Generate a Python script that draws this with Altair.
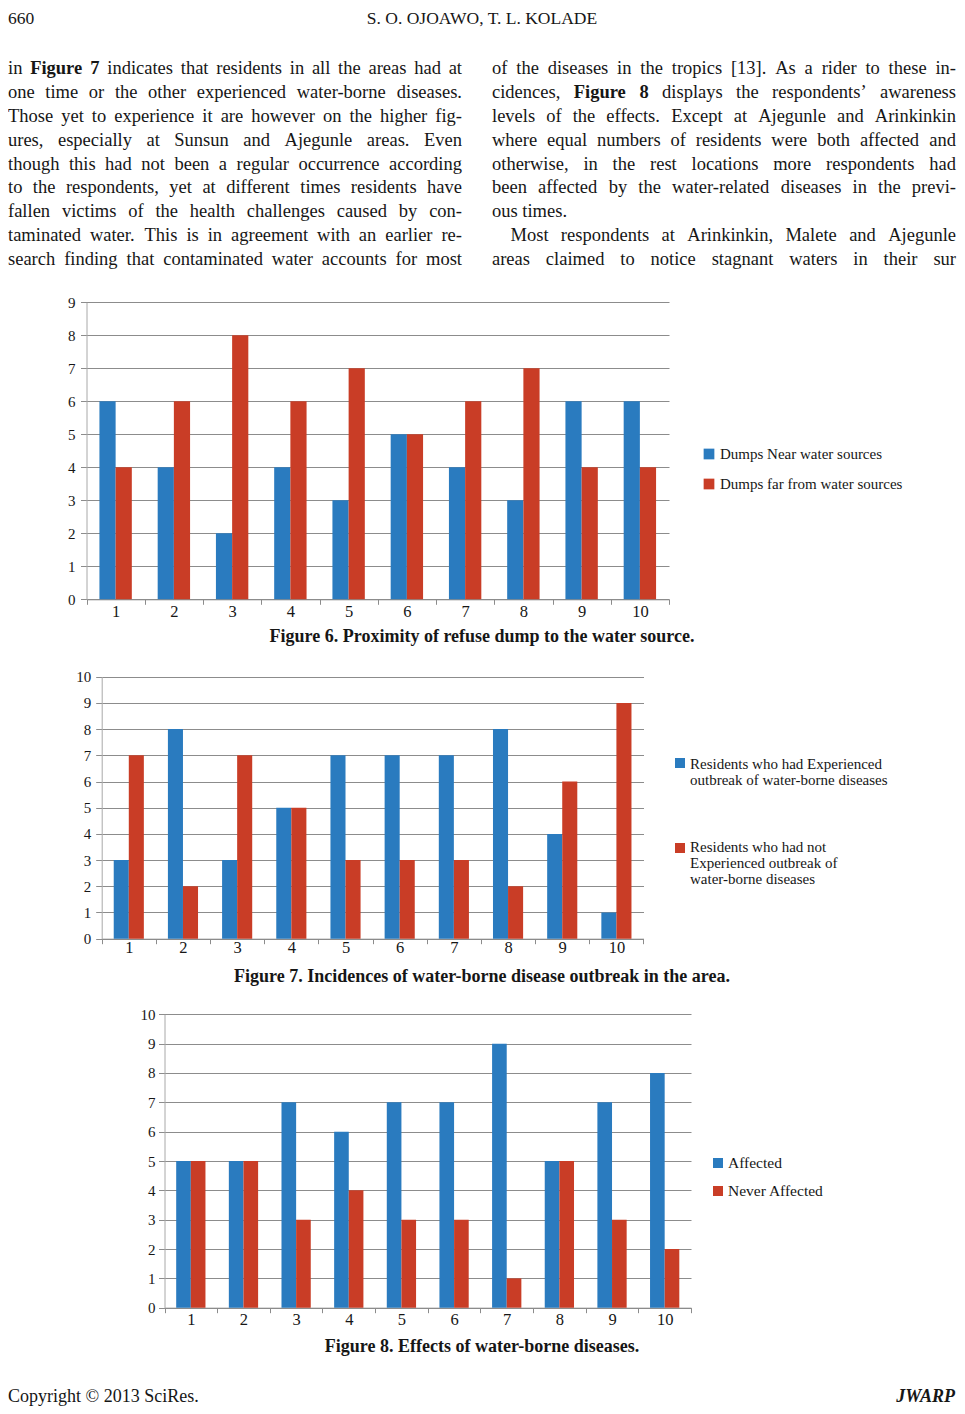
import altair as alt
import pandas as pd

FONT = "Liberation Serif"
INK = "#161616"
BLUE = "#2a7bbf"
RED = "#c93d26"
GRID = "#8c8c8c"
AXIS_LINE = "#a8a8a8"

W = 949
BODY = 18.5
LEAD = 23.95

# ---------------- chart values ----------------
areas = ["1", "2", "3", "4", "5", "6", "7", "8", "9", "10"]

fig6_series = ["Dumps Near water sources", "Dumps far from water sources"]
fig6_near = [6, 4, 2, 4, 3, 5, 4, 3, 6, 6]
fig6_far = [4, 6, 8, 6, 7, 5, 6, 7, 4, 4]

fig7_series = ["Residents who had Experienced outbreak of water-borne diseases",
               "Residents who had not Experienced outbreak of water-borne diseases"]
fig7_legend = [["Residents who had Experienced", "outbreak of water-borne diseases"],
               ["Residents who had not", "Experienced outbreak of", "water-borne diseases"]]
fig7_had = [3, 8, 3, 5, 7, 7, 7, 8, 4, 1]
fig7_not = [7, 2, 7, 5, 3, 3, 3, 2, 6, 9]

fig8_series = ["Affected", "Never Affected"]
fig8_aff = [5, 5, 7, 6, 7, 7, 9, 5, 7, 8]
fig8_never = [5, 5, 3, 4, 3, 3, 1, 5, 3, 2]

captions = ["Figure 6. Proximity of refuse dump to the water source.",
            "Figure 7. Incidences of water-borne disease outbreak in the area.",
            "Figure 8. Effects of water-borne diseases."]
header = ["660", "S. O. OJOAWO, T. L. KOLADE"]
footer = ["Copyright \u00a9 2013 SciRes.", "JWARP"]

# words starting with * are bold
left_lines = [
    "in *Figure *7 indicates that residents in all the areas had at",
    "one time or the other experienced water-borne diseases.",
    "Those yet to experience it are however on the higher fig-",
    "ures, especially at Sunsun and Ajegunle areas. Even",
    "though this had not been a regular occurrence according",
    "to the respondents, yet at different times residents have",
    "fallen victims of the health challenges caused by con-",
    "taminated water. This is in agreement with an earlier re-",
    "search finding that contaminated water accounts for most",
]
right_lines = [
    "of the diseases in the tropics [13]. As a rider to these in-",
    "cidences, *Figure *8 displays the respondents\u2019 awareness",
    "levels of the effects. Except at Ajegunle and Arinkinkin",
    "where equal numbers of residents were both affected and",
    "otherwise, in the rest locations more respondents had",
    "been affected by the water-related diseases in the previ-",
    "ous times.",
    "Most respondents at Arinkinkin, Malete and Ajegunle",
    "areas claimed to notice stagnant waters in their sur",
]
right_plain = {6}
right_indent = {7: 18.5}

# ---------------- Times metrics (for justified text) ----------------
UP = "ABCDEFGHIJKLMNOPQRSTUVWXYZ"
LO = "abcdefghijklmnopqrstuvwxyz"
REG = dict(zip(UP, [722, 667, 667, 722, 611, 556, 722, 722, 333, 389, 722, 611, 889,
                    722, 722, 556, 722, 667, 556, 611, 722, 722, 944, 722, 722, 611]))
REG.update(zip(LO, [444, 500, 444, 500, 444, 333, 500, 500, 278, 278, 500, 278, 778,
                    500, 500, 500, 500, 333, 389, 278, 500, 500, 722, 500, 500, 444]))
BOLD = dict(zip(UP, [722, 667, 722, 722, 667, 611, 778, 778, 389, 500, 778, 667, 944,
                     722, 778, 611, 778, 722, 556, 667, 722, 722, 1000, 722, 722, 667]))
BOLD.update(zip(LO, [500, 556, 444, 556, 444, 333, 500, 556, 278, 333, 556, 278, 833,
                     556, 500, 556, 556, 444, 389, 333, 556, 500, 722, 500, 500, 444]))
for tbl in (REG, BOLD):
    tbl.update({d: 500 for d in "0123456789"})
    tbl.update({" ": 250, ".": 250, ",": 250, "-": 333, "[": 333, "]": 333,
                "\u2019": 333, ":": 278, ";": 278})


def set_column(lines, x0, x1, y0, plain=(), indent=None):
    out = []
    indent = indent or {}
    for k, line in enumerate(lines):
        toks = [(t.lstrip("*"), t.startswith("*")) for t in line.split(" ")]
        widths = [sum((BOLD if b else REG).get(ch, 500) for ch in w) * BODY / 1000 for w, b in toks]
        left = x0 + indent.get(k, 0)
        if k in plain or len(toks) < 2:
            gap = REG[" "] * BODY / 1000
        else:
            gap = (x1 - left - sum(widths)) / (len(toks) - 1)
        x = left
        for (w, b), wd in zip(toks, widths):
            out.append({"x": round(x, 2), "y": round(y0 + k * LEAD, 2), "word": w, "bold": int(b)})
            x += wd + gap
    return out


ONE = pd.DataFrame({"k": [0]})


def label(s, x, y, size=15, align="left", baseline="middle", weight="normal", style="normal"):
    return alt.Chart(ONE).mark_text(
        text=s, align=align, baseline=baseline, font=FONT, fontSize=size,
        fontWeight=weight, fontStyle=style, color=INK
    ).encode(x=alt.value(x), y=alt.value(y))


# ---------------- row 1: header + two text columns ----------------
para = pd.DataFrame(set_column(left_lines, 0, 454, 65.7) +
                    set_column(right_lines, 484, 948, 65.7, right_plain, right_indent))
words = alt.Chart(para)
w_norm = words.transform_filter("datum.bold == 0").mark_text(
    align="left", baseline="alphabetic", font=FONT, fontSize=BODY, color=INK
).encode(x=alt.X("x:Q", scale=None, axis=None), y=alt.Y("y:Q", scale=None, axis=None), text="word:N")
w_bold = words.transform_filter("datum.bold == 1").mark_text(
    align="left", baseline="alphabetic", font=FONT, fontSize=BODY, fontWeight="bold", color=INK
).encode(x=alt.X("x:Q", scale=None, axis=None), y=alt.Y("y:Q", scale=None, axis=None), text="word:N")

row1 = alt.layer(
    label(header[0], 0, 2, 17.5, baseline="top"),
    label(header[1], 474, 2, 17.5, align="center", baseline="top"),
    w_norm, w_bold,
).properties(width=W, height=282)


# ---------------- figure rows ----------------
BAR_FRAC = 0.278


def figure_row(series, first, second, ymax, x_range, y_range, height, x_pad, y_pad,
               legend, caption, cap_y, extra=()):
    df = pd.DataFrame({"area": areas * 2,
                       "series": [series[0]] * len(areas) + [series[1]] * len(areas),
                       "value": first + second})
    step = (x_range[1] - x_range[0]) / len(areas)
    enc = dict(
        x=alt.X("area:O", sort=areas, title=None,
                scale=alt.Scale(range=list(x_range), paddingInner=0, paddingOuter=0),
                axis=alt.Axis(labelAngle=0, tickBand="extent", offset=y_range[0] - height,
                              domainColor=GRID, tickColor=GRID, tickSize=5, labelPadding=x_pad,
                              labelFont=FONT, labelFontSize=16.5, labelColor=INK, grid=False)),
        y=alt.Y("value:Q", title=None,
                scale=alt.Scale(domain=[0, ymax], range=list(y_range), nice=False),
                axis=alt.Axis(values=list(range(ymax + 1)), offset=-x_range[0], grid=True,
                              gridColor=GRID, domainColor=AXIS_LINE, tickColor=GRID, tickSize=6,
                              labelPadding=y_pad, labelFont=FONT, labelFontSize=15,
                              labelColor=INK)),
        color=alt.Color("series:N", sort=series, legend=None,
                        scale=alt.Scale(domain=series, range=[BLUE, RED])),
    )
    layers = []
    for i, s in enumerate(series):
        shift = (i - 0.5) * step * BAR_FRAC
        layers.append(
            alt.Chart(df).transform_filter(alt.datum.series == s)
            .mark_bar(width=alt.RelativeBandSize(BAR_FRAC), xOffset=shift)
            .encode(**enc)
        )
    for color, sq_y, lines in legend["entries"]:
        layers.append(alt.Chart(ONE).mark_square(size=legend["sq"], color=color, opacity=1)
                      .encode(x=alt.value(legend["sq_x"]), y=alt.value(sq_y)))
        for text, ty in lines:
            layers.append(label(text, legend["txt_x"], ty, legend["size"]))
    layers.append(label(caption, 474, cap_y, 18, align="center", weight="bold"))
    layers.extend(extra)
    return alt.layer(*layers).properties(width=W, height=height)


row2 = figure_row(
    fig6_series, fig6_near, fig6_far, 9, (78.5, 661), (309.3, 12.3), 370, -1, 5.5,
    {"sq_x": 701, "txt_x": 712, "size": 15, "sq": 115,
     "entries": [(BLUE, 164, [(fig6_series[0], 164)]),
                 (RED, 194, [(fig6_series[1], 194)])]},
    captions[0], 347)

row3 = figure_row(
    fig7_series, fig7_had, fig7_not, 10, (93.7, 635.5), (278.7, 16.7), 335, -4, 5,
    {"sq_x": 672, "txt_x": 682, "size": 15, "sq": 100,
     "entries": [(BLUE, 103, [(fig7_legend[0][0], 104), (fig7_legend[0][1], 120)]),
                 (RED, 188, [(fig7_legend[1][0], 187), (fig7_legend[1][1], 203),
                             (fig7_legend[1][2], 219)])]},
    captions[1], 317)

row4 = figure_row(
    fig8_series, fig8_aff, fig8_never, 10, (156.5, 683), (312.7, 19.3), 411, -1, 3.5,
    {"sq_x": 710, "txt_x": 720, "size": 15.5, "sq": 100,
     "entries": [(BLUE, 168, [(fig8_series[0], 168)]),
                 (RED, 196, [(fig8_series[1], 196)])]},
    captions[2], 352,
    extra=[label(footer[0], 0, 411, 18, baseline="bottom"),
           label(footer[1], 947, 411, 18, align="right", baseline="bottom",
                 weight="bold", style="italic")])

chart = alt.vconcat(row1, row2, row3, row4, spacing=0).resolve_scale(
    x="independent", y="independent", color="independent"
).properties(padding=0).configure(font=FONT).configure_view(strokeWidth=0, stroke="transparent")

chart.save("out.html", embed_options={"renderer": "svg", "actions": False})
